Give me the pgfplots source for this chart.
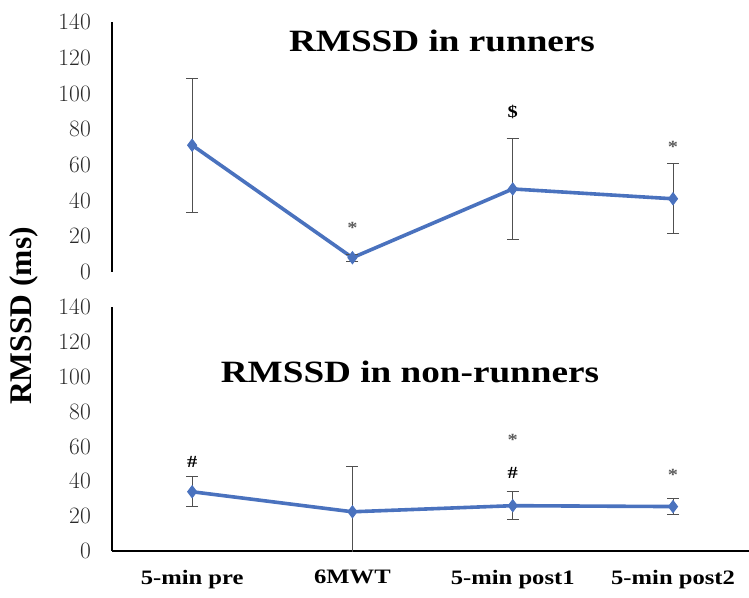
\documentclass[border=0pt]{standalone}
\usepackage{pgfplots}
\pgfplotsset{compat=1.18}
\usepackage{fontspec}
\setmainfont{Liberation Serif}[FakeStretch=1.2]
\newfontfamily\plainserif{Liberation Serif}
\definecolor{lineblue}{HTML}{4A72BE}
\definecolor{tickgray}{HTML}{2A2A2A}
\definecolor{errgray}{HTML}{505050}
\definecolor{stargray}{HTML}{5A5A5A}
\pgfplotstableread{
x y e
0 71 37.5
1 8 2
2 46.5 28.5
3 41 19.5
}\runners
\pgfplotstableread{
x y e
0 34 8.5
1 22.5 26
2 26 8
3 25.5 4.5
}\nonrunners
\tikzset{anno/.style={font=\bfseries\fontsize{17}{17}\selectfont}}
\begin{document}
\begin{tikzpicture}
\useasboundingbox (0pt,0pt) rectangle (749pt,597pt);
\pgfplotsset{
 panel/.style={
  scale only axis, width=637pt, xmin=-0.5, xmax=3.474, ymin=0, ymax=140,
  ytick={0,20,40,60,80,100,120,140},
  yticklabels={0,20,40,60,80,100,120,140},
  major tick length=0pt,
  yticklabel style={font=\fontfamily{lmr}\fontsize{23.5}{23.5}\selectfont, color=tickgray, inner sep=0pt, xshift=-21pt},
  anchor=south west,
 },
 series/.style={lineblue, line width=3.6pt, mark=diamond*, mark size=6pt,
  mark options={solid, line width=1pt, fill=lineblue},
  error bars/.cd, y dir=both, y explicit,
  error bar style={errgray, line width=1pt},
  error mark options={errgray, line width=1pt, rotate=90, mark size=6pt}},
}
% top panel
\begin{axis}[panel, at={(112pt,325pt)}, height=250pt, axis x line=none, axis y line=left,
  axis line style={-, line width=1.3pt, black}]
\addplot[series] table[x=x, y=y, y error=e] {\runners};
\node[anno, text=stargray] at (axis cs:1,24.6) {*};
\node[anno] at (axis cs:2,89.6) {\$};
\node[anno, text=stargray] at (axis cs:3,70) {*};
\end{axis}
% bottom panel
\begin{axis}[panel, at={(112pt,46pt)}, height=244pt, axis x line=bottom, axis y line=left,
  axis line style={-, line width=1.3pt, black},
  xtick={0,1,2,3}, xticklabels={5-min pre,6MWT,5-min post1,5-min post2},
  xticklabel style={font=\bfseries\fontsize{20.5}{20.5}\selectfont, inner sep=0pt, yshift=-19pt, text=black}]
\addplot[series] table[x=x, y=y, y error=e] {\nonrunners};
\node[anno] at (axis cs:0,51) {\#};
\node[anno] at (axis cs:2,44.8) {\#};
\node[anno, text=stargray] at (axis cs:2,64) {*};
\node[anno, text=stargray] at (axis cs:3,43.6) {*};
\end{axis}
\node[anchor=base, font=\bfseries\fontsize{31}{31}\selectfont] at (442pt,545pt) {RMSSD in runners};
\node[anchor=base, font=\bfseries\fontsize{31}{31}\selectfont] at (410pt,214pt) {RMSSD in non-runners};
\node[rotate=90, font=\plainserif\bfseries\fontsize{31.5}{31.5}\selectfont] at (24pt,281pt) {RMSSD (ms)};
\end{tikzpicture}
\end{document}
